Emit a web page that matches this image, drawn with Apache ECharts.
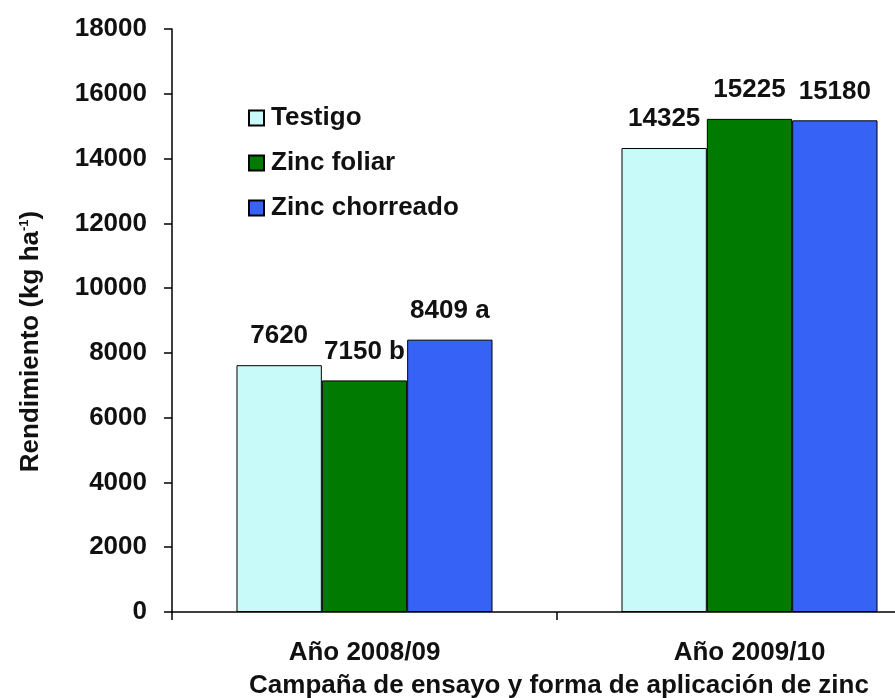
<!DOCTYPE html>
<html>
<head>
<meta charset="utf-8">
<script src="https://cdn.jsdelivr.net/npm/echarts@6/dist/echarts.min.js"></script>
<style>html,body{margin:0;padding:0;background:#fff;}#c{width:895px;height:698px;}</style>
</head>
<body>
<div id="c"></div>
<script>
const categories = ['Año 2008/09', 'Año 2009/10'];
const seriesNames = ['Testigo', 'Zinc foliar', 'Zinc chorreado'];
const testigo = [7620, 14325];
const zincFoliar = [7150, 15225];
const zincChorreado = [8409, 15180];
const testigoLabels = ['7620', '14325'];
const zincFoliarLabels = ['7150 b', '15225'];
const zincChorreadoLabels = ['8409 a', '15180'];
const yTicks = { min: 0, max: 18000, interval: 2000 };

const FONT = 'Liberation Sans, Arial, sans-serif';
const colors = ['#C8FAFA', '#007A00', '#3663F5'];

function mkSeries(name, data, labels, color) {
  return {
    name: name,
    type: 'bar',
    data: data,
    barGap: '0%',
    barCategoryGap: '33.5%',
    itemStyle: { color: color, borderColor: '#000', borderWidth: 1 },
    label: {
      show: true,
      position: 'top',
      distance: 16,
      formatter: p => labels[p.dataIndex],
      color: '#111',
      fontFamily: FONT,
      fontWeight: 'bold',
      fontSize: 26
    }
  };
}

const chart = echarts.init(document.getElementById('c'), null, { renderer: 'canvas' });
chart.setOption({
  animation: false,
  backgroundColor: '#fff',
  grid: { left: 172, top: 29, bottom: 86, right: -47, containLabel: false, outerBoundsMode: 'none' },
  legend: {
    orient: 'vertical',
    left: 243,
    top: 100,
    itemWidth: 15,
    itemHeight: 15,
    itemGap: 19,
    icon: 'rect',
    data: seriesNames,
    textStyle: { fontFamily: FONT, fontWeight: 'bold', fontSize: 26, color: '#111', padding: [0, 0, 0, 2] }
  },
  xAxis: {
    type: 'category',
    data: categories,
    name: 'Campaña de ensayo y forma de aplicación de zinc',
    nameLocation: 'middle',
    nameGap: 61,
    nameTextStyle: { fontFamily: FONT, fontWeight: 'bold', fontSize: 26, color: '#111', padding: [0, 0, 0, 4] },
    axisLine: { show: true, lineStyle: { color: '#000', width: 1.5 } },
    axisTick: { show: true, length: 8, lineStyle: { color: '#000', width: 1.5 } },
    axisLabel: { margin: 28, fontFamily: FONT, fontWeight: 'bold', fontSize: 26, color: '#111' },
    splitLine: { show: false }
  },
  yAxis: {
    type: 'value',
    min: yTicks.min,
    max: yTicks.max,
    interval: yTicks.interval,
    name: '{n|Rendimiento (kg ha}{s|-1}{n|)}',
    nameLocation: 'middle',
    nameGap: 128,
    nameRotate: 90,
    nameTextStyle: {
      padding: [0, 42, 0, 0],
      rich: {
        n: { fontFamily: FONT, fontWeight: 'bold', fontSize: 26, color: '#111' },
        s: { fontFamily: FONT, fontWeight: 'bold', fontSize: 13, color: '#111', verticalAlign: 'top', padding: [0, 0, 10, 0] }
      }
    },
    axisLine: { show: true, lineStyle: { color: '#000', width: 1.5 } },
    axisTick: { show: true, length: 8, lineStyle: { color: '#000', width: 1.5 } },
    axisLabel: { margin: 25, formatter: v => String(v), fontFamily: FONT, fontWeight: 'bold', fontSize: 26, color: '#111' },
    splitLine: { show: false }
  },
  series: [
    mkSeries(seriesNames[0], testigo, testigoLabels, colors[0]),
    mkSeries(seriesNames[1], zincFoliar, zincFoliarLabels, colors[1]),
    mkSeries(seriesNames[2], zincChorreado, zincChorreadoLabels, colors[2])
  ]
});
</script>
</body>
</html>
